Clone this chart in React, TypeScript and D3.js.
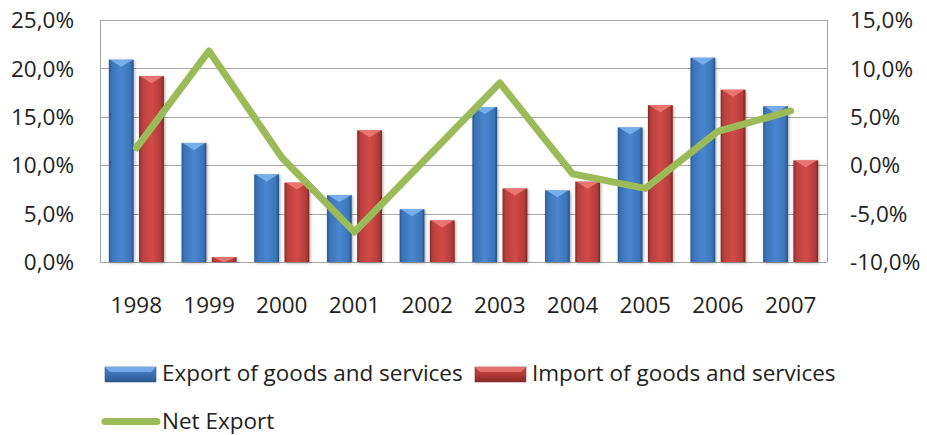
import { useEffect, useRef } from "react";
import * as d3 from "d3";

const years = ["1998", "1999", "2000", "2001", "2002", "2003", "2004", "2005", "2006", "2007"];
const exportGrowth = [20.9, 12.3, 9.05, 6.9, 5.45, 16.0, 7.4, 13.9, 21.1, 16.1];
const importGrowth = [19.2, 0.5, 8.2, 13.6, 4.3, 7.6, 8.3, 16.2, 17.8, 10.5];
const netExport = [1.8, 11.8, 0.8, -6.9, 0.8, 8.5, -0.9, -2.4, 3.5, 5.6];
const leftTicks = [0, 5, 10, 15, 20, 25];
const rightTicks = [-10, -5, 0, 5, 10, 15];

const FONT = "'Open Sans', sans-serif";
const FS = 22.5;
const fmt = (v: number) => v.toFixed(1).replace(".", ",") + "%";

export default function App() {
  const svgRef = useRef<SVGSVGElement | null>(null);

  useEffect(() => {
    if (!svgRef.current) return;
    document.body.style.margin = "0";
    document.body.style.overflow = "hidden";
    const svg = d3.select(svgRef.current);
    svg.selectAll("*").remove();

    const left = 100;
    const right = 827;
    const top = 20;
    const bottom = 262;

    const x = d3.scaleBand<string>().domain(years).range([left, right]);
    const groupW = 55;
    const sub = d3
      .scaleBand<string>()
      .domain(["exp", "imp"])
      .range([0, groupW])
      .paddingInner(0.18);
    const yL = d3.scaleLinear().domain([0, 25]).range([bottom, top]);
    const yR = d3.scaleLinear().domain([-10, 15]).range([bottom, top]);

    const defs = svg.append("defs");
    const mkGrad = (id: string, stops: [number, string][], vertical = false) => {
      const g = defs
        .append("linearGradient")
        .attr("id", id)
        .attr("x1", "0")
        .attr("x2", vertical ? "0" : "1")
        .attr("y1", "0")
        .attr("y2", vertical ? "1" : "0");
      stops.forEach(([o, c]) => g.append("stop").attr("offset", o).attr("stop-color", c));
    };
    mkGrad("blueG", [
      [0, "#2a5a94"],
      [0.12, "#3b74b8"],
      [0.5, "#4a86cf"],
      [0.88, "#3b74b8"],
      [1, "#244f84"],
    ]);
    mkGrad("redG", [
      [0, "#8e2724"],
      [0.12, "#b8403d"],
      [0.5, "#d24a47"],
      [0.88, "#b23c39"],
      [1, "#7f2220"],
    ]);
    mkGrad("blueGV", [[0, "#4a86cf"], [1, "#2a5a94"]], true);
    mkGrad("redGV", [[0, "#d24a47"], [1, "#8e2724"]], true);

    const shadow = defs
      .append("filter")
      .attr("id", "shadow")
      .attr("x", "-30%")
      .attr("y", "-10%")
      .attr("width", "160%")
      .attr("height", "130%");
    shadow
      .append("feDropShadow")
      .attr("dx", 1)
      .attr("dy", 1)
      .attr("stdDeviation", 1.5)
      .attr("flood-color", "#000")
      .attr("flood-opacity", 0.35);

    // grid
    svg
      .append("g")
      .selectAll("line")
      .data(leftTicks)
      .join("line")
      .attr("x1", left)
      .attr("x2", right)
      .attr("y1", (d) => Math.round(yL(d)) + 0.5)
      .attr("y2", (d) => Math.round(yL(d)) + 0.5)
      .attr("stroke", "#a6a6a6")
      .attr("stroke-width", 1);
    [left, right].forEach((xx) =>
      svg
        .append("line")
        .attr("x1", xx + 0.5)
        .attr("x2", xx + 0.5)
        .attr("y1", top)
        .attr("y2", bottom)
        .attr("stroke", "#a6a6a6"),
    );

    const txt = (g: d3.Selection<SVGGElement, unknown, null, undefined>) =>
      g.attr("font-family", FONT).attr("font-size", FS).attr("fill", "#222");

    // left axis labels
    svg
      .append("g")
      .call(txt)
      .selectAll("text")
      .data(leftTicks)
      .join("text")
      .attr("x", 74)
      .attr("y", (d) => yL(d))
      .attr("dy", "0.36em")
      .attr("text-anchor", "end")
      .text((d) => fmt(d));

    // right axis labels
    svg
      .append("g")
      .call(txt)
      .selectAll("text")
      .data(rightTicks)
      .join("text")
      .attr("x", 850)
      .attr("y", (d) => yR(d))
      .attr("dy", "0.36em")
      .text((d) => fmt(d));

    // year labels
    svg
      .append("g")
      .call(txt)
      .selectAll("text")
      .data(years)
      .join("text")
      .attr("x", (d) => x(d)! + x.bandwidth() / 2)
      .attr("y", 313)
      .attr("text-anchor", "middle")
      .text((d) => d);

    const off = (x.bandwidth() - groupW) / 2;
    const drawBars = (vals: number[], key: string, grad: string, hi: string) => {
      const g = svg.append("g");
      years.forEach((yr, i) => {
        const bx = x(yr)! + off + sub(key)!;
        const bw = sub.bandwidth();
        const by = yL(vals[i]);
        const bh = bottom - by;
        g.append("rect")
          .attr("x", bx)
          .attr("y", by)
          .attr("width", bw)
          .attr("height", bh)
          .attr("fill", `url(#${grad})`)
          .attr("filter", "url(#shadow)");
        const th = Math.min(7, bh);
        g.append("path")
          .attr("d", `M${bx + 1},${by}L${bx + bw - 1},${by}L${bx + bw / 2},${by + th}Z`)
          .attr("fill", hi)
          .attr("opacity", 0.85);
      });
    };
    drawBars(exportGrowth, "exp", "blueG", "#7fb6f2");
    drawBars(importGrowth, "imp", "redG", "#ee7c79");

    // net export line
    const line = d3
      .line<number>()
      .x((_, i) => x(years[i])! + x.bandwidth() / 2)
      .y((d) => yR(d));
    svg
      .append("path")
      .datum(netExport)
      .attr("d", line)
      .attr("fill", "none")
      .attr("stroke", "#9bbb59")
      .attr("stroke-width", 7)
      .attr("stroke-linejoin", "round")
      .attr("stroke-linecap", "round");

    // legend
    const lg = svg.append("g");
    const swatch = (sx: number, grad: string, hi: string) => {
      lg.append("rect")
        .attr("x", sx)
        .attr("y", 367)
        .attr("width", 51)
        .attr("height", 15)
        .attr("fill", `url(#${grad}V)`)
        .attr("stroke", d3.color(hi)!.darker(2).toString())
        .attr("stroke-width", 0.6);
      lg.append("path")
        .attr("d", `M${sx},367L${sx + 51},367L${sx + 46},372L${sx + 5},372Z`)
        .attr("fill", hi)
        .attr("opacity", 0.8);
    };
    swatch(105, "blueG", "#7fb6f2");
    swatch(475, "redG", "#ee7c79");
    const legendText = (tx: number, ty: number, s: string) =>
      lg
        .append("text")
        .attr("x", tx)
        .attr("y", ty)
        .attr("font-family", FONT)
        .attr("font-size", FS)
        .attr("fill", "#222")
        .text(s);
    legendText(162, 381, "Export of goods and services");
    legendText(532, 381, "Import of goods and services");
    lg.append("line")
      .attr("x1", 105)
      .attr("x2", 157)
      .attr("y1", 421.5)
      .attr("y2", 421.5)
      .attr("stroke", "#9bbb59")
      .attr("stroke-width", 7)
      .attr("stroke-linecap", "round");
    legendText(162, 429, "Net Export");
  }, []);

  return (
    <div style={{ position: "absolute", left: 0, top: 0, width: 927, height: 435, background: "#fff" }}>
      <svg ref={svgRef} width={927} height={435} style={{ display: "block" }} />
    </div>
  );
}
